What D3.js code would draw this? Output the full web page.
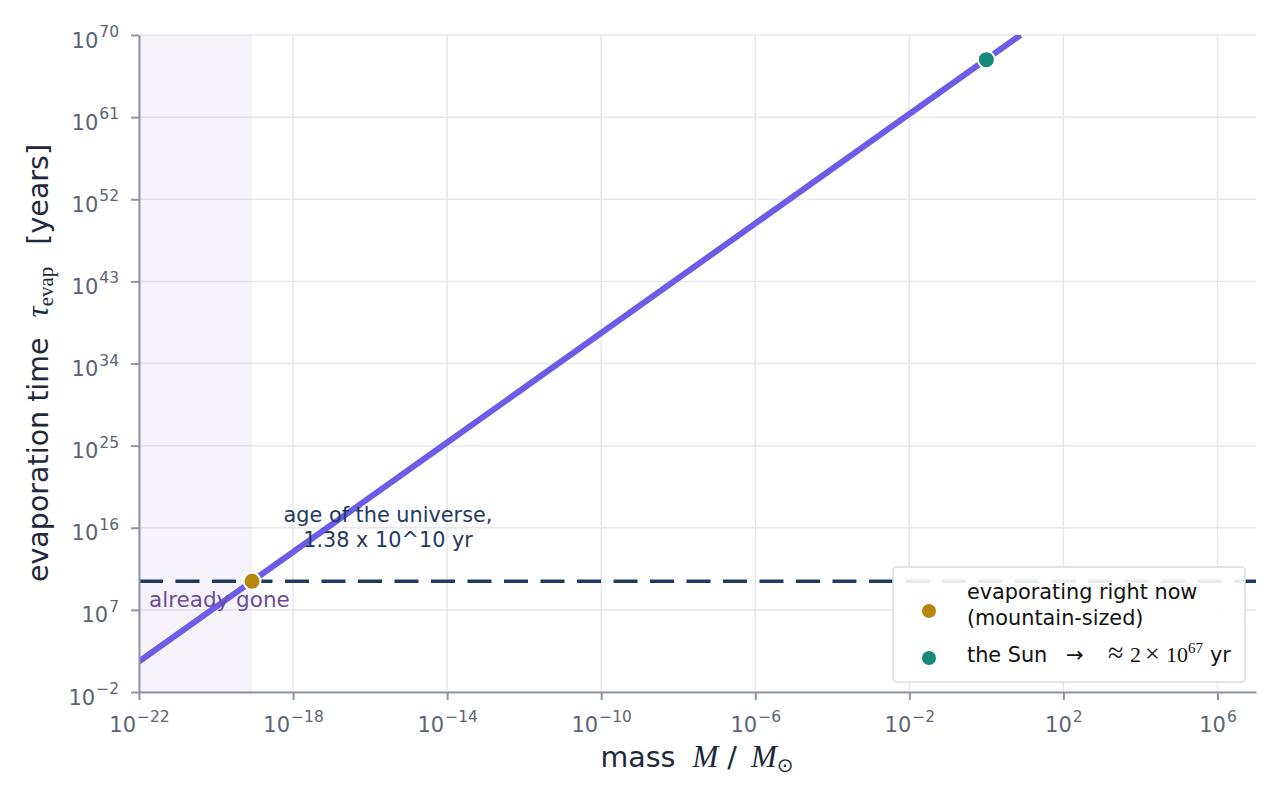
<!DOCTYPE html>
<html>
<head>
<meta charset="utf-8">
<script src="https://cdn.jsdelivr.net/npm/d3@7/dist/d3.min.js"></script>
<style>
  html, body { margin: 0; padding: 0; background: #ffffff; }
  svg { display: block; }
  text { font-family: "DejaVu Sans", sans-serif; }
  .math { font-family: "Liberation Serif", "DejaVu Serif", serif; }
</style>
</head>
<body>
<svg id="chart" width="1280" height="800"></svg>
<script>
// ---------------- data ----------------
const xDomain = [1e-22, 1e7];
const yDomain = [1e-2, 1e70];
const xTickExps = [-22, -18, -14, -10, -6, -2, 2, 6];
const yTickExps = [-2, 7, 16, 25, 34, 43, 52, 61, 70];

// evaporation curve tau(M) (solar masses -> years)
const curveMass = [1e-22, 1e-18, 1e-14, 1e-10, 1e-6, 1e-2, 1, 7.7];
const curveTau  = [2.2e1, 2.2e13, 2.2e25, 2.2e37, 2.2e49, 2.2e61, 2.2e67, 1e70];

const ageUniverse = 1.38e10;          // years
const goneMassLimit = 8.6e-20;        // solar masses (right edge of shaded band)

const pointNames  = ["mountain", "sun"];
const pointMass   = [8.6e-20, 1];
const pointTau    = [1.38e10, 2e67];
const pointColors = ["#b8860b", "#14897a"];

// ---------------- layout ----------------
const W = 1280, H = 800;
const m = { left: 139, right: 24, top: 35, bottom: 108 };
const iw = W - m.left - m.right, ih = H - m.top - m.bottom;

const svg = d3.select("#chart");
const x = d3.scaleLog().domain(xDomain).range([m.left, m.left + iw]);
const y = d3.scaleLog().domain(yDomain).range([m.top + ih, m.top]);

const SPINE = "#8d95a5", GRID = "#e6e8ee", TICKTXT = "#5b6475", LABEL = "#1e293b";

svg.append("defs").append("clipPath").attr("id", "clip")
  .append("rect").attr("x", m.left).attr("y", m.top).attr("width", iw).attr("height", ih);

// grid
const grid = svg.append("g");
grid.selectAll(".gx").data(xTickExps).join("line")
  .attr("x1", d => x(Math.pow(10, d))).attr("x2", d => x(Math.pow(10, d)))
  .attr("y1", m.top).attr("y2", m.top + ih)
  .attr("stroke", GRID).attr("stroke-width", 1.5);
grid.selectAll(".gy").data(yTickExps).join("line")
  .attr("x1", m.left).attr("x2", m.left + iw)
  .attr("y1", d => y(Math.pow(10, d))).attr("y2", d => y(Math.pow(10, d)))
  .attr("stroke", GRID).attr("stroke-width", 1.5);

// shaded "already gone" band
svg.append("rect")
  .attr("x", x(xDomain[0])).attr("y", m.top)
  .attr("width", x(goneMassLimit) - x(xDomain[0])).attr("height", ih)
  .attr("fill", "#8258c4").attr("fill-opacity", 0.075);

// age of the universe dashed line
svg.append("line")
  .attr("x1", m.left).attr("x2", m.left + iw)
  .attr("y1", y(ageUniverse)).attr("y2", y(ageUniverse))
  .attr("stroke", "#1f3a5f").attr("stroke-width", 3.5)
  .attr("stroke-dasharray", "24,12.5");

// curve
const line = d3.line().x((d, i) => x(curveMass[i])).y((d, i) => y(curveTau[i]));
svg.append("path")
  .attr("clip-path", "url(#clip)")
  .attr("d", line(curveMass))
  .attr("fill", "none").attr("stroke", "#6c5ce7").attr("stroke-width", 6)
  .attr("stroke-linecap", "butt");

// points
svg.selectAll(".pt").data(pointNames).join("circle")
  .attr("cx", (d, i) => x(pointMass[i])).attr("cy", (d, i) => y(pointTau[i]))
  .attr("r", 8.5).attr("fill", (d, i) => pointColors[i])
  .attr("stroke", "#ffffff").attr("stroke-width", 2);

// axes
function supLabel(sel, exp, anchor) {
  sel.append("tspan").text("10");
  sel.append("tspan").attr("font-size", 15.5).attr("dx", 1).attr("dy", -10.5)
    .text(exp < 0 ? "\u2212" + Math.abs(exp) : String(exp));
  sel.attr("text-anchor", anchor);
}

const xAxis = d3.axisBottom(x).tickValues(xTickExps.map(e => Math.pow(10, e)))
  .tickSize(8).tickSizeOuter(0).tickFormat(() => "");
const gx = svg.append("g").attr("transform", `translate(0,${m.top + ih})`).call(xAxis);
gx.select(".domain").attr("stroke", SPINE).attr("stroke-width", 2);
gx.selectAll(".tick line").attr("stroke", SPINE).attr("stroke-width", 2);
gx.selectAll(".tick text").remove();
gx.selectAll(".tick").each(function(d, i) {
  const t = d3.select(this).append("text")
    .attr("y", 40).attr("fill", TICKTXT).attr("font-size", 21);
  supLabel(t, xTickExps[i], "middle");
});

const yAxis = d3.axisLeft(y).tickValues(yTickExps.map(e => Math.pow(10, e)))
  .tickSize(8).tickSizeOuter(0).tickFormat(() => "");
const gy = svg.append("g").attr("transform", `translate(${m.left},0)`).call(yAxis);
gy.select(".domain").attr("stroke", SPINE).attr("stroke-width", 2);
gy.selectAll(".tick line").attr("stroke", SPINE).attr("stroke-width", 2);
gy.selectAll(".tick text").remove();
gy.selectAll(".tick").each(function(d, i) {
  const t = d3.select(this).append("text")
    .attr("x", -20).attr("y", 12).attr("fill", TICKTXT).attr("font-size", 21);
  supLabel(t, yTickExps[i], "end");
});

// x axis label
const xl = svg.append("text").attr("x", 697).attr("y", 767)
  .attr("text-anchor", "middle").attr("fill", LABEL).attr("font-size", 28.5);
xl.append("tspan").text("mass");
xl.append("tspan").attr("dx", 17).attr("class", "math").attr("font-style", "italic").attr("font-size", 31).text("M");
xl.append("tspan").attr("dx", 9).text("/");
xl.append("tspan").attr("dx", 14).attr("class", "math").attr("font-style", "italic").attr("font-size", 31).text("M");
xl.append("tspan").attr("font-size", 20).attr("dy", 5).text("\u2299");

// y axis label
const yl = svg.append("text").attr("transform", "translate(48,363) rotate(-90)")
  .attr("text-anchor", "middle").attr("fill", LABEL).attr("font-size", 28.5);
yl.append("tspan").text("evaporation time");
yl.append("tspan").attr("dx", 20).attr("class", "math").attr("font-style", "italic").attr("font-size", 31).text("\u03c4");
yl.append("tspan").attr("class", "math").attr("font-size", 21).attr("dy", 5).text("evap");
yl.append("tspan").attr("dx", 22).attr("dy", -5).text("[years]");

// annotations
const ann = svg.append("text").attr("text-anchor", "middle").attr("fill", "#1f3a5f").attr("font-size", 20.8);
ann.append("tspan").attr("x", 388).attr("y", 522).text("age of the universe,");
ann.append("tspan").attr("x", 388).attr("y", 547).text("1.38 x 10^10 yr");

svg.append("text").attr("x", 149).attr("y", 607)
  .attr("fill", "#6a4c9c").attr("font-size", 21.5).text("already gone");

// legend
const lg = svg.append("g").attr("transform", "translate(893,567)");
lg.append("rect").attr("x", 0).attr("y", 0).attr("width", 352).attr("height", 115)
  .attr("rx", 4).attr("fill", "#ffffff").attr("fill-opacity", 0.9)
  .attr("stroke", "#d5dae3").attr("stroke-width", 1.5);
lg.selectAll(".ld").data(pointNames).join("circle")
  .attr("cx", 36).attr("cy", (d, i) => i === 0 ? 44 : 91)
  .attr("r", 7).attr("fill", (d, i) => pointColors[i]);
const l1 = lg.append("text").attr("fill", "#111111").attr("font-size", 20.8);
l1.append("tspan").attr("x", 74).attr("y", 32).text("evaporating right now");
l1.append("tspan").attr("x", 74).attr("y", 58).text("(mountain-sized)");
const l2 = lg.append("text").attr("y", 95).attr("fill", "#111111").attr("font-size", 20.8);
l2.append("tspan").attr("x", 74).text("the Sun");
l2.append("tspan").attr("x", 173).attr("font-size", 21).attr("font-family", "DejaVu Sans").text("\u2192");
l2.append("tspan").attr("x", 215).attr("class", "math").attr("font-size", 28).text("\u2248");
l2.append("tspan").attr("x", 237).attr("class", "math").attr("font-size", 22).text("2");
l2.append("tspan").attr("x", 252).attr("class", "math").attr("font-size", 26).text("\u00d7");
l2.append("tspan").attr("x", 273).attr("class", "math").attr("font-size", 22).text("10");
l2.append("tspan").attr("class", "math").attr("font-size", 15).attr("dy", -9).text("67");
l2.append("tspan").attr("x", 317).attr("dy", 9).text("yr");
</script>
</body>
</html>
